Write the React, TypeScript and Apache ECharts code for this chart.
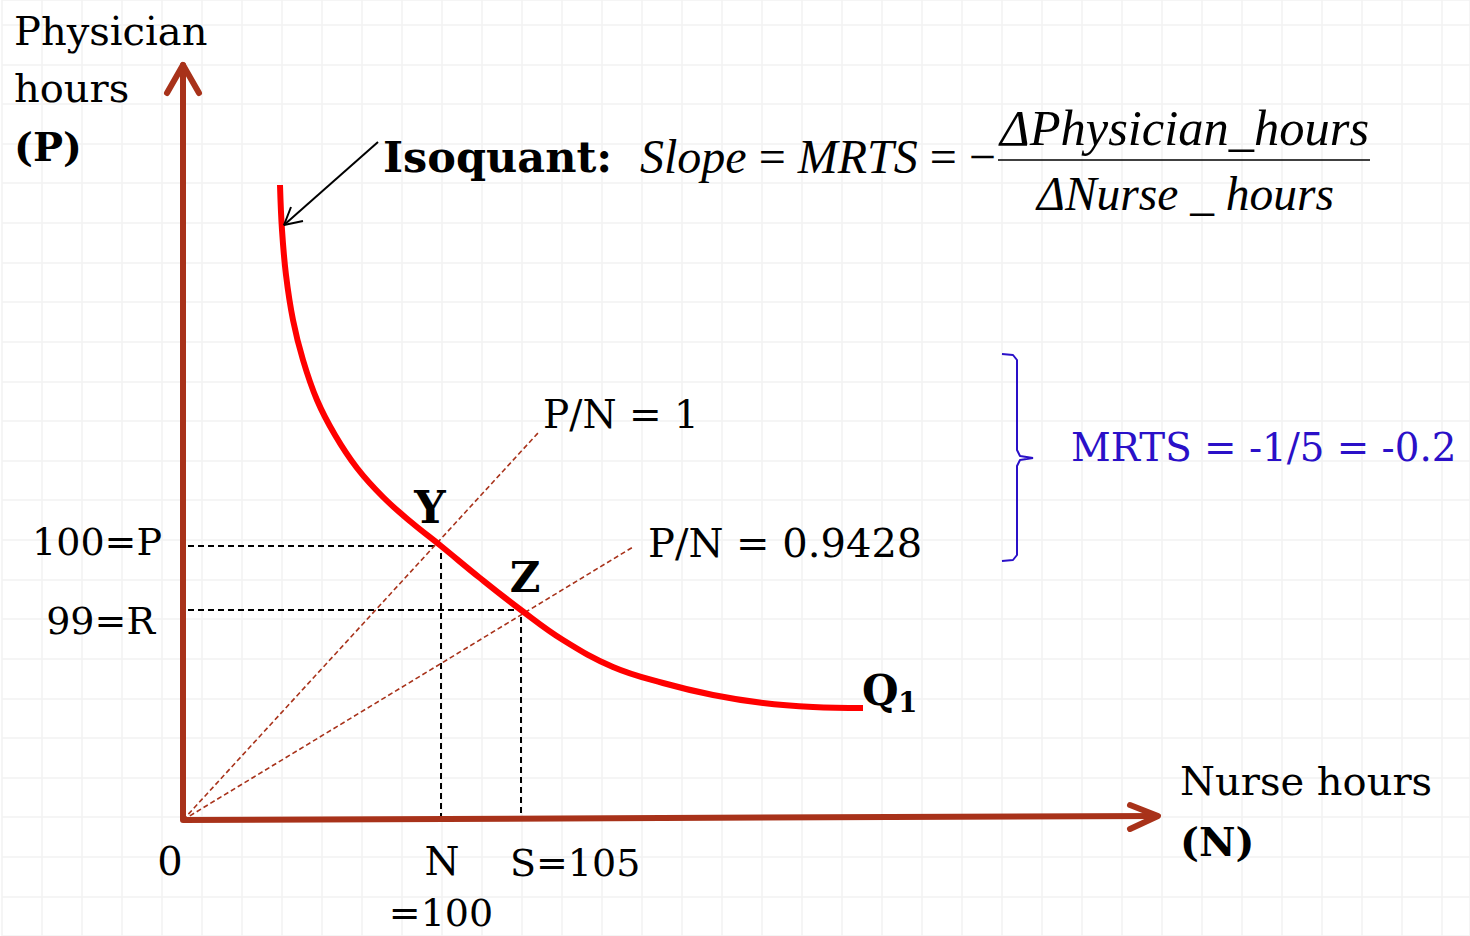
import React, { useEffect, useRef } from "react";
import * as echarts from "echarts";

// Diagram coordinates: origin at the corner of the axes (schematic units).
const isoquantN = [97, 99, 103, 110, 120, 134, 152, 174, 200, 228, 258, 297, 338, 380, 430, 480, 530, 580, 630, 680];
const isoquantP = [635, 590, 545, 500, 460, 420, 385, 352, 323, 298, 274, 242, 210, 180, 153, 137, 125, 117, 113, 112];

const pointY = [258, 274]; // (N=100, P=100)
const pointZ = [338, 210]; // (S=105, R=99)
const ray1End = [355, 387]; // P/N = 1
const ray2End = [450, 273]; // P/N = 0.9428

const yAxisLine = [[0, 0], [0, 755]];
const yArrowHead = [[-16, 727], [0, 755], [16, 727]];
const xAxisLine = [[0, 0], [975, 4]];
const xArrowHead = [[947, 15], [975, 4], [947, -9]];

const pointerLine = [[195, 678], [101, 595]];
const pointerHead = [[108, 613], [101, 595], [120, 599]];

const braceN = [819, 830, 834, 834, 837, 850, 837, 834, 834, 830, 819];
const braceP = [466, 465, 460, 370, 364, 362, 360, 354, 265, 260, 259];

const tickLabelsY = ["100=P", "99=R"];
const tickLabelsX = ["0", "N", "=100", "S=105"];
const rayLabels = ["P/N = 1", "P/N = 0.9428"];
const mrtsText = "MRTS = -1/5 = -0.2";

const AXIS = "#a8321a";
const BLUE = "#2a10c8";
const SERIF = "'DejaVu Serif', serif";
const TIMES = "'Liberation Serif', 'Times New Roman', serif";

function zip(a: number[], b: number[]) {
  return a.map((v, i) => [v, b[i]]);
}

function txt(
  text: string,
  x: number,
  baseline: number,
  size: number,
  opts: any = {}
) {
  const fam = opts.family || SERIF;
  return {
    type: "text",
    silent: true,
    z: 100,
    style: {
      text,
      x,
      y: baseline - 0.34 * size,
      fontSize: size,
      fontFamily: fam,
      fontWeight: opts.bold ? "bold" : "normal",
      fontStyle: opts.italic ? "italic" : "normal",
      fill: opts.color || "#000",
      align: opts.align || "left",
      textAlign: opts.align || "left",
      verticalAlign: "middle",
      textVerticalAlign: "middle",
      rich: opts.rich,
    },
  };
}

function lineSeries(data: number[][], style: any, extra: any = {}) {
  return {
    type: "line",
    xAxisIndex: 0,
    yAxisIndex: 0,
    data,
    symbol: "none",
    silent: true,
    animation: false,
    lineStyle: style,
    ...extra,
  };
}

export default function App() {
  const ref = useRef<HTMLDivElement>(null);
  useEffect(() => {
    if (!ref.current) return;
    const chart = echarts.init(ref.current, null, { renderer: "svg" });
    const hidden = {
      axisLine: { show: false },
      axisTick: { show: false },
      axisLabel: { show: false },
      splitLine: { show: false },
    };
    const bgSplit = {
      axisLine: { show: false },
      axisTick: { show: false },
      axisLabel: { show: false },
      splitLine: { show: true, lineStyle: { color: "#f2f2f2", width: 1.5 } },
    };
    const option: any = {
      animation: false,
      backgroundColor: "#ffffff",
      grid: [
        { left: 0, top: 0, right: 0, bottom: 0 },
        { left: 2, top: 0, right: 0, bottom: -9 },
      ],
      xAxis: [
        { type: "value", gridIndex: 0, min: -183, max: 1287, ...hidden },
        { type: "value", gridIndex: 1, min: 0, max: 1468, interval: 40, ...bgSplit },
      ],
      yAxis: [
        { type: "value", gridIndex: 0, min: -116, max: 820, ...hidden },
        { type: "value", gridIndex: 1, min: 0, max: 945, interval: 40, ...bgSplit },
      ],
      series: [
        { type: "line", xAxisIndex: 1, yAxisIndex: 1, data: [], symbol: "none" },
        // dashed guides
        lineSeries(
          [[5, pointY[1]], pointY, [pointY[0], 0]],
          { color: "#000", width: 2, type: [6, 4] }
        ),
        lineSeries(
          [[5, pointZ[1]], pointZ, [pointZ[0], 0]],
          { color: "#000", width: 2, type: [6, 4] }
        ),
        // rays
        lineSeries([[0, 0], ray1End], { color: AXIS, width: 1.6, type: [5, 3] }),
        lineSeries([[0, 0], ray2End], { color: AXIS, width: 1.6, type: [5, 3] }),
        // axes
        lineSeries(yAxisLine, { color: AXIS, width: 6, cap: "round" }),
        lineSeries(yArrowHead, { color: AXIS, width: 6, cap: "round", join: "round" }),
        lineSeries(xAxisLine, { color: AXIS, width: 6, cap: "butt" }),
        lineSeries(xArrowHead, { color: AXIS, width: 6, cap: "round", join: "round" }),
        // isoquant
        lineSeries(zip(isoquantN, isoquantP), { color: "#ff0000", width: 6 }, { smooth: 0.4 }),
        // pointer arrow
        lineSeries(pointerLine, { color: "#000", width: 2 }),
        lineSeries(pointerHead, { color: "#000", width: 2 }),
        // brace
        lineSeries(zip(braceN, braceP), { color: BLUE, width: 2 }),
      ],
      graphic: [
        txt("Physician", 14, 45, 40),
        txt("hours", 14, 102, 40),
        txt("(P)", 14, 160, 40, { bold: true }),
        txt("Isoquant:", 383, 172, 43, { bold: true }),
        txt("{i|Slope} {u|=} {i|MRTS} {u|=} {u|\u2212}", 640, 173, 48, {
          family: TIMES,
          rich: {
            i: { fontFamily: TIMES, fontStyle: "italic", fontSize: 48, fill: "#000" },
            u: { fontFamily: TIMES, fontSize: 48, fill: "#000" },
          },
        }),
        txt("\u0394Physician_hours", 1000, 145, 50.5, { family: TIMES, italic: true }),
        {
          type: "line",
          silent: true,
          z: 100,
          shape: { x1: 998, y1: 160, x2: 1370, y2: 160 },
          style: { stroke: "#000", lineWidth: 1.5 },
        },
        txt("\u0394Nurse _ hours", 1037, 210, 47.5, { family: TIMES, italic: true }),
        txt(rayLabels[0], 543, 428, 39),
        txt(rayLabels[1], 648, 557, 40),
        txt(mrtsText, 1071, 461, 38.8, { color: BLUE }),
        txt("Y", 430, 522, 44, { bold: true, align: "center" }),
        txt("Z", 525, 592, 42, { bold: true, align: "center" }),
        txt("Q", 862, 705, 42, { bold: true }),
        txt("1", 898, 712, 28, { bold: true }),
        txt(tickLabelsY[0], 162, 555, 38, { align: "right" }),
        txt(tickLabelsY[1], 155, 634, 38, { align: "right" }),
        txt(tickLabelsX[0], 170, 875, 40, { align: "center" }),
        txt(tickLabelsX[1], 442, 875, 40, { align: "center" }),
        txt(tickLabelsX[2], 441, 926, 38, { align: "center" }),
        txt(tickLabelsX[3], 510, 876, 38),
        txt("Nurse hours", 1180, 795, 40),
        txt("(N)", 1180, 855, 40, { bold: true }),
      ],
    };
    chart.setOption(option);
    return () => chart.dispose();
  }, []);
  return (
    <div
      ref={ref}
      style={{ position: "fixed", left: 0, top: 0, width: 1470, height: 936, background: "#fff" }}
    />
  );
}
